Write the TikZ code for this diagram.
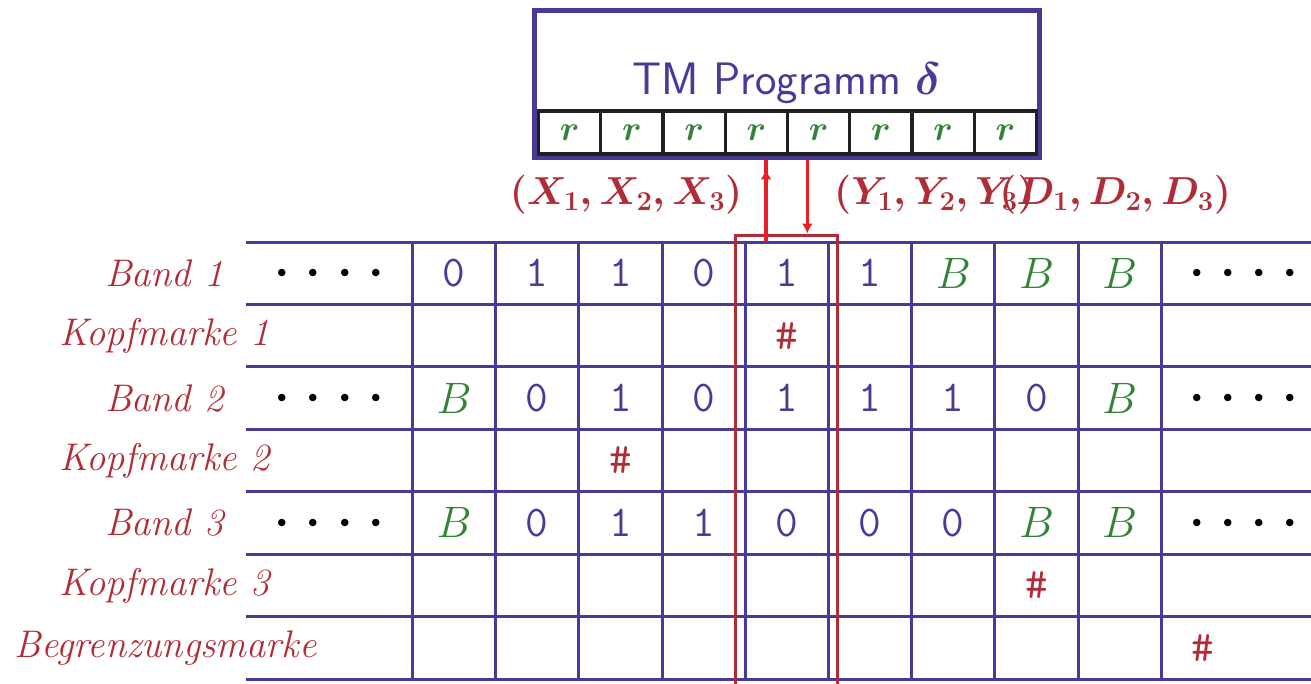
\RequirePackage{fix-cm}
\documentclass[tikz,border=0pt]{standalone}
\usetikzlibrary{arrows.meta,decorations.markings}
\definecolor{gridblue}{RGB}{72,58,152}
\definecolor{lblred}{RGB}{176,44,54}
\definecolor{arrred}{RGB}{234,30,38}
\definecolor{tapegreen}{RGB}{52,132,56}
\definecolor{cellblack}{RGB}{35,31,32}
\begin{document}
\begin{tikzpicture}[x=1pt,y=-1pt,
  gridline/.style={draw=gridblue, line width=3pt},
  progbox/.style={draw=gridblue, line width=5pt, minimum width=505.5pt, minimum height=147pt, inner sep=0pt, fill=white},
  rcell/.style={draw=cellblack, line width=3.4pt, minimum width=62.25pt, minimum height=43pt, inner sep=0pt, text=tapegreen, font=\fontsize{35}{40}\selectfont\boldmath},
  progtext/.style={text=gridblue, font=\fontsize{45.5}{52}\selectfont\sffamily, anchor=base, inner sep=0pt},
  rowlabel/.style={text=lblred, font=\fontsize{38.5}{44}\selectfont\itshape, inner sep=0pt},
  digit/.style={text=gridblue, font=\fontsize{44}{50}\selectfont\ttfamily, inner sep=0pt},
  blank/.style={text=tapegreen, font=\fontsize{44}{50}\selectfont, inner sep=0pt, execute at begin node=$, execute at end node=$},
  headmark/.style={text=lblred, font=\fontsize{44}{50}\selectfont\ttfamily, inner sep=0pt},
  dotsnode/.style={text=black, font=\fontsize{70}{80}\selectfont, anchor=base, inner sep=0pt},
  tuple/.style={text=lblred, font=\fontsize{39}{44}\selectfont\boldmath, inner sep=0pt},
  headframe/.style={draw=lblred, line width=3pt, minimum width=101.8pt, minimum height=465pt, inner sep=0pt},
  flow/.style={draw=arrred, line width=3.5pt}
]
\useasboundingbox (0,0) rectangle (1311,683);

% tape grid
\foreach \k in {0,...,7}
  \draw[gridline] (246,{242+62.43*\k}) -- (1311,{242+62.43*\k});
\foreach \k in {0,...,9}
  \draw[gridline] ({412.5+83.2*\k},242) -- ({412.5+83.2*\k},679);

% row labels
\node[rowlabel] (l1) at (164.5,273.2) {Band 1};
\node[rowlabel] (l2) at (164.5,335.6) {Kopfmarke 1};
\node[rowlabel] (l3) at (164.5,398.1) {Band 2};
\node[rowlabel] (l4) at (164.5,460.5) {Kopfmarke 2};
\node[rowlabel] (l5) at (164.5,522.9) {Band 3};
\node[rowlabel] (l6) at (164.5,585.4) {Kopfmarke 3};
\node[rowlabel] (l7) at (165.5,647.8) {Begrenzungsmarke};

% dots
\foreach \y [count=\n] in {290.7,415.6,540.4}{
  \node[dotsnode] (dl\n) at (329.3,\y) {$\cdotp\cdotp\cdotp\cdotp$};
  \node[dotsnode] (dr\n) at (1243.7,\y) {$\cdotp\cdotp\cdotp\cdotp$};
}

% band contents
\foreach \k/\s/\st in {1/0/digit,2/1/digit,3/1/digit,4/0/digit,5/1/digit,6/1/digit,7/B/blank,8/B/blank,9/B/blank}
  \node[\st] (a\k) at ({412.5+83.2*(\k-0.5)},273.2) {\s};
\foreach \k/\s/\st in {1/B/blank,2/0/digit,3/1/digit,4/0/digit,5/1/digit,6/1/digit,7/1/digit,8/0/digit,9/B/blank}
  \node[\st] (b\k) at ({412.5+83.2*(\k-0.5)},398.1) {\s};
\foreach \k/\s/\st in {1/B/blank,2/0/digit,3/1/digit,4/1/digit,5/0/digit,6/0/digit,7/0/digit,8/B/blank,9/B/blank}
  \node[\st] (c\k) at ({412.5+83.2*(\k-0.5)},522.9) {\s};

% head marks
\node[headmark] (m1) at (786.9,335.6) {\#};
\node[headmark] (m2) at (620.5,460.5) {\#};
\node[headmark] (m3) at (1036.5,585.4) {\#};
\node[headmark] (m4) at (1202.9,647.8) {\#};

% head frame
\node[headframe] (head) at (786.4,467.5) {};

% program box
\node[progbox] (prog) at (786.75,83.5) {};
\node[progtext] (ptext) at (786.75,94.5) {TM Programm {\boldmath$\delta$}};
\foreach \i in {1,...,8}
  \node[rcell] (r\i) at ({538.5+62.25*(\i-0.5)},132.5) {$r$};

% tuples
\node[tuple] (xin) at (626,195) {$(X_1, X_2, X_3)$};
\node[tuple, anchor=west] (yout) at (834,195) {$(Y_1, Y_2, Y_3)$};
\node[tuple, anchor=east] (dout) at (1231,195) {$(D_1, D_2, D_3)$};

% arrows
\coordinate (upfoot) at (766,242);
\coordinate (downtip) at (807.3,0);
\draw[flow, postaction={decorate}, decoration={markings, mark=at position 0.88 with {\arrow{Latex[length=10pt,width=11pt]}}}]
  (upfoot) -- (upfoot |- prog.south);
\draw[flow, -{Latex[length=10pt,width=11pt]}] (downtip |- prog.south) -- (downtip |- head.north);
\end{tikzpicture}
\end{document}
